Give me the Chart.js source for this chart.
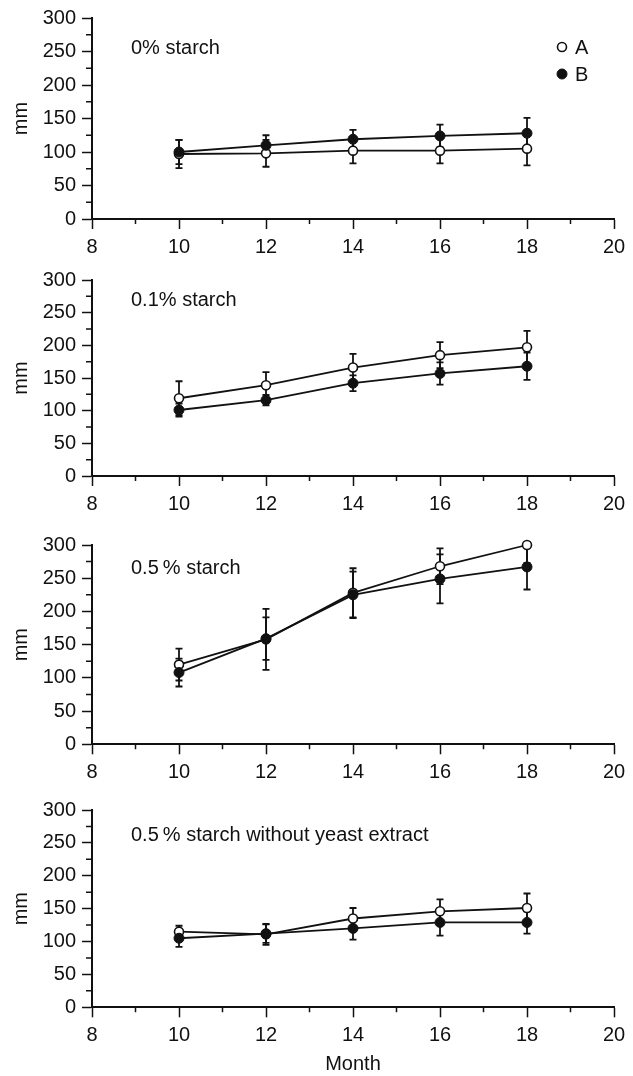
<!DOCTYPE html>
<html>
<head>
<meta charset="utf-8">
<title>Growth in mm by month</title>
<script src="https://cdn.jsdelivr.net/npm/chart.js@4"></script>
<style>
  body { margin: 0; background: #fff; }
  #wrap { position: relative; width: 633px; height: 1076px; }
  #wrap canvas { position: absolute; left: 0; }
</style>
</head>
<body>
<div id="wrap">
  <canvas id="panel1" width="633" height="262" style="top:0px"></canvas>
  <canvas id="panel2" width="633" height="265" style="top:262px"></canvas>
  <canvas id="panel3" width="633" height="265" style="top:527px"></canvas>
  <canvas id="panel4" width="633" height="284" style="top:792px"></canvas>
</div>
<script>
  /**************Data**************/
  const months = [10, 12, 14, 16, 18];
  const seriesNames = ['A', 'B'];
  const panelLabels = ['0% starch', '0.1% starch', '0.5\u2009% starch', '0.5\u2009% starch without yeast extract'];

  const xTickValues = [8, 10, 12, 14, 16, 18, 20];
  const xMinorTicks = [9, 11, 13, 15, 17, 19];
  const yTickValues = [0, 50, 100, 150, 200, 250, 300];
  const yMinorTicks = [25, 75, 125, 175, 225, 275];

  // 0% starch
  const a0 = [97, 98, 102, 102, 105];
  const a0Err = [21, 20, 19, 19, 25];
  const b0 = [100, 110, 119, 124, 128];
  const b0Err = [18, 15, 14, 17, 23];
  // 0.1% starch
  const a1 = [119, 139, 166, 185, 197];
  const a1Err = [26, 20, 21, 20, 25];
  const b1 = [101, 116, 142, 157, 168];
  const b1Err = [10, 8, 12, 17, 21];
  // 0.5% starch
  const a2 = [120, 158, 228, 268, 300];
  const a2Err = [24, 46, 37, 27, 27];
  const b2 = [108, 159, 225, 249, 267];
  const b2Err = [21, 32, 35, 37, 34];
  // 0.5% starch without yeast extract
  const a3 = [115, 111, 135, 146, 151];
  const a3Err = [9, 16, 16, 18, 22];
  const b3 = [105, 112, 120, 129, 129];
  const b3Err = [13, 14, 17, 20, 17];

  const ink = '#111';
  const fontFamily = '"Liberation Sans", Arial, Helvetica, sans-serif';
  Chart.defaults.font.family = fontFamily;
  Chart.defaults.font.size = 20;
  Chart.defaults.color = ink;

  /**************Error bars (drawn under the lines)**************/
  const errorBars = {
    id: 'errorBars',
    beforeDatasetsDraw(chart) {
      const ctx = chart.ctx;
      const area = chart.chartArea;
      const xs = chart.scales.x, ys = chart.scales.y;
      ctx.save();
      ctx.beginPath();
      ctx.rect(area.left, area.top, area.right - area.left, area.bottom - area.top);
      ctx.clip();
      ctx.strokeStyle = ink;
      ctx.lineWidth = 1.8;
      chart.data.datasets.forEach(ds => {
        ds.data.forEach((pt, i) => {
          const px = xs.getPixelForValue(pt.x);
          const hi = ys.getPixelForValue(pt.y + ds.errors[i]);
          const lo = ys.getPixelForValue(pt.y - ds.errors[i]);
          ctx.beginPath();
          ctx.moveTo(px, hi); ctx.lineTo(px, lo);
          ctx.moveTo(px - 3.5, hi); ctx.lineTo(px + 3.5, hi);
          ctx.moveTo(px - 3.5, lo); ctx.lineTo(px + 3.5, lo);
          ctx.stroke();
        });
      });
      ctx.restore();
    }
  };

  /**************Minor ticks on both axes**************/
  const minorTicks = {
    id: 'minorTicks',
    afterDraw(chart) {
      const ctx = chart.ctx;
      const area = chart.chartArea;
      const xs = chart.scales.x, ys = chart.scales.y;
      ctx.save();
      ctx.strokeStyle = ink;
      ctx.lineWidth = 1.5;
      ctx.beginPath();
      yMinorTicks.forEach(v => {
        const py = ys.getPixelForValue(v);
        ctx.moveTo(area.left - 6, py); ctx.lineTo(area.left, py);
      });
      xMinorTicks.forEach(v => {
        const px = xs.getPixelForValue(v);
        ctx.moveTo(px, area.bottom); ctx.lineTo(px, area.bottom + 5);
      });
      ctx.stroke();
      ctx.restore();
    }
  };

  /**************Panel caption + legend inside the plot**************/
  const panelText = {
    id: 'panelText',
    afterDraw(chart, args, opts) {
      const ctx = chart.ctx;
      const area = chart.chartArea;
      ctx.save();
      ctx.fillStyle = ink;
      ctx.font = '20px ' + fontFamily;
      ctx.textBaseline = 'middle';
      ctx.textAlign = 'left';
      ctx.fillText(opts.text, area.left + 39, area.top + opts.dy);
      if (opts.legend) {
        chart.data.datasets.forEach((ds, i) => {
          const cx = area.right - 52;
          const cy = area.top + 29 + i * 27;
          ctx.beginPath();
          ctx.arc(cx, cy, ds.pointRadius, 0, Math.PI * 2);
          ctx.fillStyle = ds.pointBackgroundColor;
          ctx.fill();
          ctx.lineWidth = ds.pointBorderWidth;
          ctx.strokeStyle = ink;
          ctx.stroke();
          ctx.fillStyle = ink;
          ctx.fillText(ds.label, cx + 13, cy + 1);
        });
      }
      ctx.restore();
    }
  };

  function toPoints(values) {
    return months.map((m, i) => ({x: m, y: values[i]}));
  }

  function makePanel(id, a, aErr, b, bErr, label, layout) {
    new Chart(document.getElementById(id), {
      type: 'scatter',
      data: {
        datasets: [
          { label: seriesNames[0], data: toPoints(a), errors: aErr, showLine: true,
            borderColor: ink, borderWidth: 1.8, pointRadius: 4.5, pointBorderWidth: 1.6,
            pointBackgroundColor: '#fff', pointBorderColor: ink, order: 2, clip: false },
          { label: seriesNames[1], data: toPoints(b), errors: bErr, showLine: true,
            borderColor: ink, borderWidth: 1.8, pointRadius: 5, pointBorderWidth: 1,
            pointBackgroundColor: ink, pointBorderColor: ink, order: 1, clip: false }
        ]
      },
      options: {
        responsive: false,
        animation: false,
        events: [],
        layout: { padding: { top: layout.top, left: 0, right: 19, bottom: 0 } },
        plugins: {
          legend: { display: false },
          tooltip: { enabled: false },
          panelText: { text: label, dy: layout.dy, legend: layout.legend }
        },
        scales: {
          x: {
            type: 'linear', min: 8, max: 20,
            afterBuildTicks: s => { s.ticks = xTickValues.map(v => ({value: v})); },
            afterFit: s => { s.height = layout.xh; },
            ticks: { padding: 6, maxRotation: 0, color: ink },
            grid: { display: true, drawOnChartArea: false, drawTicks: true, tickLength: 10, tickWidth: 1.5, tickColor: ink },
            border: { display: true, width: 2, color: ink },
            title: { display: layout.xTitle, text: 'Month', color: ink, padding: { top: 0, bottom: 0 } }
          },
          y: {
            type: 'linear', min: 0, max: 300,
            afterBuildTicks: s => { s.ticks = yTickValues.map(v => ({value: v})); },
            afterFit: s => { s.width = 92; },
            ticks: { padding: 6, color: ink },
            grid: { display: true, drawOnChartArea: false, drawTicks: true, tickLength: 10, tickWidth: 1.5, tickColor: ink },
            border: { display: true, width: 2, color: ink },
            title: { display: true, text: 'mm', color: ink, padding: { top: 9, bottom: 0 } }
          }
        }
      },
      plugins: [errorBars, minorTicks, panelText]
    });
  }

  makePanel('panel1', a0, a0Err, b0, b0Err, panelLabels[0], { top: 16, xh: 43, dy: 30, legend: true, xTitle: false });
  makePanel('panel2', a1, a1Err, b1, b1Err, panelLabels[1], { top: 16.3, xh: 51, dy: 20, legend: false, xTitle: false });
  makePanel('panel3', a2, a2Err, b2, b2Err, panelLabels[2], { top: 13, xh: 47.7, dy: 23, legend: false, xTitle: false });
  makePanel('panel4', a3, a3Err, b3, b3Err, panelLabels[3], { top: 14.7, xh: 68.7, dy: 25, legend: false, xTitle: true });
</script>
</body>
</html>
